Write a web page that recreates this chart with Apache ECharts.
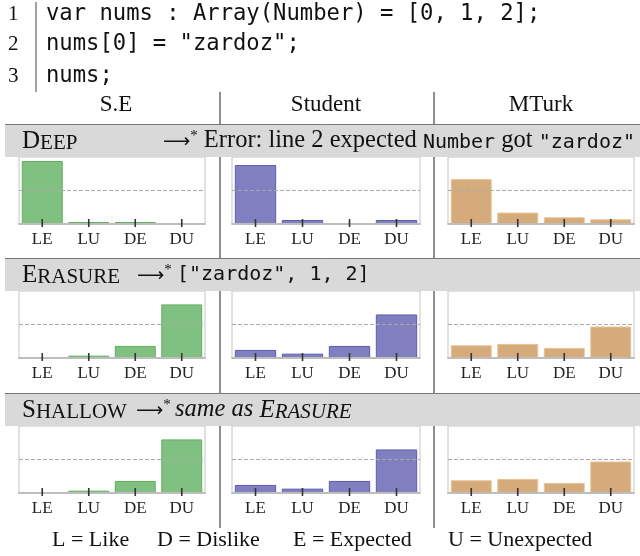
<!DOCTYPE html>
<html>
<head>
<meta charset="utf-8">
<script src="https://cdn.jsdelivr.net/npm/echarts@6/dist/echarts.min.js"></script>
<style>html,body{margin:0;padding:0;background:#fff}#c{width:640px;height:556px}</style>
</head>
<body>
<div id="c"></div>
<script>
// ---- data ----
const categories = ['LE', 'LU', 'DE', 'DU'];
const columns = ['S.E', 'Student', 'MTurk'];
const deepSE = [0.94, 0.03, 0.03, 0.004];
const deepStudent = [0.88, 0.06, 0.004, 0.06];
const deepMTurk = [0.67, 0.17, 0.10, 0.07];
const erasureSE = [0.005, 0.035, 0.18, 0.80];
const erasureStudent = [0.12, 0.065, 0.18, 0.65];
const erasureMTurk = [0.19, 0.21, 0.15, 0.47];
const shallowSE = [0.005, 0.035, 0.18, 0.80];
const shallowStudent = [0.12, 0.065, 0.18, 0.65];
const shallowMTurk = [0.19, 0.21, 0.15, 0.47];
const referenceLevel = 0.5;
const codeLines = ['var nums : Array(Number) = [0, 1, 2];', 'nums[0] = "zardoz";', 'nums;'];
const legendItems = ['L = Like', 'D = Dislike', 'E = Expected', 'U = Unexpected'];

// ---- layout / style ----
const rowsData = [[deepSE, deepStudent, deepMTurk], [erasureSE, erasureStudent, erasureMTurk], [shallowSE, shallowStudent, shallowMTurk]];
const colBoxes = [{ left: 19, width: 186 }, { left: 232, width: 188 }, { left: 448, width: 186 }];
const rowTops = [157, 291, 426];
const boxH = 67;
const fills = ['#80c080', '#8080c0', '#d5ab7c'];
const borders = ['#5fae5f', '#5c5cae', '#e8c291'];
const SERIF = '"Liberation Serif", serif';
const MONO = '"DejaVu Sans Mono", monospace';

const grid = [], xAxis = [], yAxis = [], series = [];
let g = 0;
rowsData.forEach((row, r) => {
  row.forEach((vals, c) => {
    grid.push({ left: colBoxes[c].left, width: colBoxes[c].width, top: rowTops[r], height: boxH,
      show: true, borderColor: '#c4c4c4', borderWidth: 1, backgroundColor: 'transparent' });
    xAxis.push({ type: 'category', gridIndex: g, data: categories, z: 5,
      axisLine: { show: true, lineStyle: { color: '#bdbdbd', width: 2 } },
      axisTick: { show: false },
      axisLabel: { fontFamily: SERIF, fontSize: 17, color: '#222', margin: 7 } });
    yAxis.push({ type: 'value', gridIndex: g, min: 0, max: 1,
      axisLine: { show: false }, axisTick: { show: false }, axisLabel: { show: false }, splitLine: { show: false } });
    series.push({ type: 'bar', xAxisIndex: g, yAxisIndex: g, data: vals, barCategoryGap: '12%',
      itemStyle: { color: fills[c], borderColor: borders[c], borderWidth: 1 },
      markLine: { silent: true, symbol: ['none', 'none'], label: { show: false },
        lineStyle: { type: 'dashed', color: '#aaa', width: 1 }, data: [{ yAxis: referenceLevel }] } });
    // category tick marks crossing the axis line, placed at each category on the baseline
    series.push({ type: 'scatter', xAxisIndex: g, yAxisIndex: g, silent: true, z: 10, clip: false,
      data: categories.map(cat => [cat, 0]), symbol: 'rect', symbolSize: [1.6, 8], symbolOffset: [0, -1],
      itemStyle: { color: '#333', opacity: 1 } });
    g++;
  });
});

function txt(x, y, text, font, extra) {
  return Object.assign({ type: 'text', x: x, y: y, z: 20,
    style: Object.assign({ text: text, font: font, fill: '#111', textAlign: 'left', textVerticalAlign: 'middle', align: 'left', verticalAlign: 'middle' }, extra || {}) });
}
const graphic = [];
// code block
graphic.push({ type: 'line', z: 5, shape: { x1: 36, y1: 2, x2: 36, y2: 92 }, style: { stroke: '#444', lineWidth: 1 } });
const codeY = [14, 44, 76];
codeLines.forEach((l, i) => {
  graphic.push(txt(8, codeY[i], String(i + 1), '21px ' + SERIF));
  graphic.push(txt(46, codeY[i], l, '22.2px ' + MONO));
});
// column headers
const headCx = [116, 326, 541];
columns.forEach((t, i) => graphic.push(txt(headCx[i], 105, t, '23px ' + SERIF, { textAlign: 'center', align: 'center' })));
// dividers
[220, 434].forEach(x => graphic.push({ type: 'line', z: 5, shape: { x1: x, y1: 92, x2: x, y2: 528 }, style: { stroke: '#444', lineWidth: 1.2 } }));
// bands
const bandTops = [124, 258, 393];
bandTops.forEach(t => {
  graphic.push({ type: 'rect', z: 10, shape: { x: 5, y: t, width: 640, height: 33 }, style: { fill: '#d9d9d9' } });
  graphic.push({ type: 'line', z: 11, shape: { x1: 5, y1: t + 0.5, x2: 640, y2: t + 0.5 }, style: { stroke: '#777', lineWidth: 1 } });
});
const rich = {
  sc: { font: '25px ' + SERIF, fill: '#111', verticalAlign: 'bottom' },
  scs: { font: '21px ' + SERIF, fill: '#111', verticalAlign: 'bottom' },
  isc: { font: 'italic 25px ' + SERIF, fill: '#111', verticalAlign: 'bottom' },
  iscs: { font: 'italic 21px ' + SERIF, fill: '#111', verticalAlign: 'bottom' },
  it: { font: 'italic 24.5px ' + SERIF, fill: '#111', verticalAlign: 'bottom' },
  ar: { font: '19px "DejaVu Sans", sans-serif', fill: '#111', verticalAlign: 'bottom', padding: [0, 0, 2, 0] },
  sup: { font: '15px ' + SERIF, fill: '#111', verticalAlign: 'bottom', padding: [0, 0, 10, 0] },
  s: { font: '24.5px ' + SERIF, fill: '#111', verticalAlign: 'bottom' },
  m: { font: '20px ' + MONO, fill: '#111', verticalAlign: 'bottom', padding: [0, 0, 1, 0] }
};
const bandY = bandTops.map(t => t + 17);
graphic.push(txt(22, bandY[0], '{sc|D}{scs|EEP}', '24px ' + SERIF, { rich: rich }));
graphic.push(txt(163, bandY[0], '{ar|⟶}{sup|*}{s| Error: line 2 expected }{m|Number}{s| got }{m|"zardoz"}', '24px ' + SERIF, { rich: rich }));
graphic.push(txt(22, bandY[1], '{sc|E}{scs|RASURE}', '24px ' + SERIF, { rich: rich }));
graphic.push(txt(137, bandY[1], '{ar|⟶}{sup|*}', '24px ' + SERIF, { rich: rich }));
graphic.push(txt(177, bandY[1], '{m|["zardoz", 1, 2]}', '20px ' + MONO, { rich: rich }));
graphic.push(txt(22, bandY[2], '{sc|S}{scs|HALLOW}', '24px ' + SERIF, { rich: rich }));
graphic.push(txt(136, bandY[2], '{ar|⟶}{sup|*}', '24px ' + SERIF, { rich: rich }));
graphic.push(txt(175, bandY[2], '{it|same as }{isc|E}{iscs|RASURE}', '24px ' + SERIF, { rich: rich }));
// footer
const legX = [52, 157, 293, 448];
legendItems.forEach((t, i) => graphic.push(txt(legX[i], 540, t, '22px ' + SERIF)));

const chart = echarts.init(document.getElementById('c'), null, { renderer: 'canvas' });
chart.setOption({ animation: false, backgroundColor: '#fff', grid, xAxis, yAxis, series, graphic });
</script>
</body>
</html>
